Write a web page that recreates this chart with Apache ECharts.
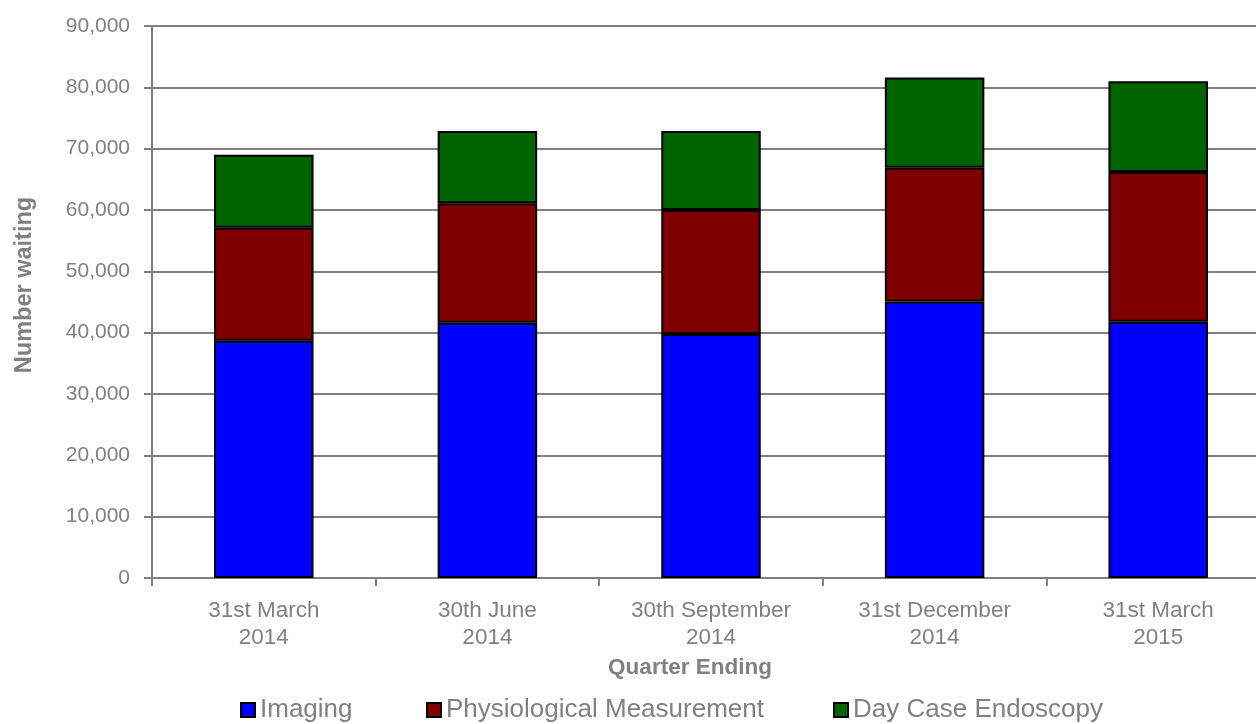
<!DOCTYPE html>
<html>
<head>
<meta charset="utf-8">
<script src="https://cdn.jsdelivr.net/npm/echarts@6/dist/echarts.min.js"></script>
<style>
  html, body { margin: 0; padding: 0; background: #fff; }
  #chart { width: 1256px; height: 724px; }
</style>
</head>
<body>
<div id="chart"></div>
<script>
// quarter ending labels
const quarters = ['31st March\n2014', '30th June\n2014', '30th September\n2014', '31st December\n2014', '31st March\n2015']
const seriesNames = ['Imaging', 'Physiological Measurement', 'Day Case Endoscopy']
const imaging = [38700, 41600, 39800, 45100, 41800]
const physiological = [18400, 19500, 20200, 21800, 24400]
const endoscopy = [11900, 11800, 12900, 14700, 14800]

const grey = '#808080'
const font = 'Liberation Sans, Arial, sans-serif'

const myChart = echarts.init(document.getElementById('chart'))

function barSeries(name, data, color) {
  return {
    name: name,
    type: 'bar',
    stack: 'total',
    barWidth: '44.5%',
    data: data,
    itemStyle: {
      color: color,
      borderColor: '#000',
      borderWidth: 2
    }
  }
}

// one legend per item so each sits where the original has it
function legendAt(name, left) {
  return {
    left: left,
    top: 697,
    padding: 0,
    itemWidth: 14,
    itemHeight: 14,
    icon: 'rect',
    textStyle: { color: grey, fontSize: 26, fontFamily: font },
    itemStyle: { borderColor: '#000', borderWidth: 2 },
    data: [name]
  }
}

const option = {
  animation: false,
  textStyle: { fontFamily: font },
  grid: {
    left: 152,
    right: -14,
    top: 26,
    bottom: 146,
    outerBoundsMode: 'none',
    containLabel: false
  },
  legend: [
    legendAt(seriesNames[0], 240),
    legendAt(seriesNames[1], 426),
    legendAt(seriesNames[2], 833)
  ],
  xAxis: {
    type: 'category',
    data: quarters,
    name: 'Quarter Ending',
    nameLocation: 'middle',
    nameGap: 74,
    nameTextStyle: { color: grey, fontSize: 22.5, fontWeight: 'bold', padding: [0, 42, 0, 0] },
    axisLine: { lineStyle: { color: grey, width: 2 } },
    axisTick: { show: true, length: 8, lineStyle: { color: grey, width: 2 } },
    axisLabel: { color: grey, fontSize: 22.5, lineHeight: 27, margin: 19 }
  },
  yAxis: {
    type: 'value',
    min: 0,
    max: 90000,
    interval: 10000,
    name: 'Number waiting',
    nameLocation: 'middle',
    nameGap: 115,
    nameTextStyle: { color: grey, fontSize: 23.5, fontWeight: 'bold', padding: [0, 0, 0, 34] },
    axisLine: { show: true, lineStyle: { color: grey, width: 2 } },
    axisTick: { show: true, length: 8, lineStyle: { color: grey, width: 2 } },
    axisLabel: {
      color: grey,
      fontSize: 21,
      margin: 22,
      formatter: v => v.toLocaleString('en-US')
    },
    splitLine: { lineStyle: { color: grey, width: 2 } }
  },
  series: [
    barSeries(seriesNames[0], imaging, '#0000FF'),
    barSeries(seriesNames[1], physiological, '#800000'),
    barSeries(seriesNames[2], endoscopy, '#006400')
  ]
}

option && myChart.setOption(option)
</script>
</body>
</html>
